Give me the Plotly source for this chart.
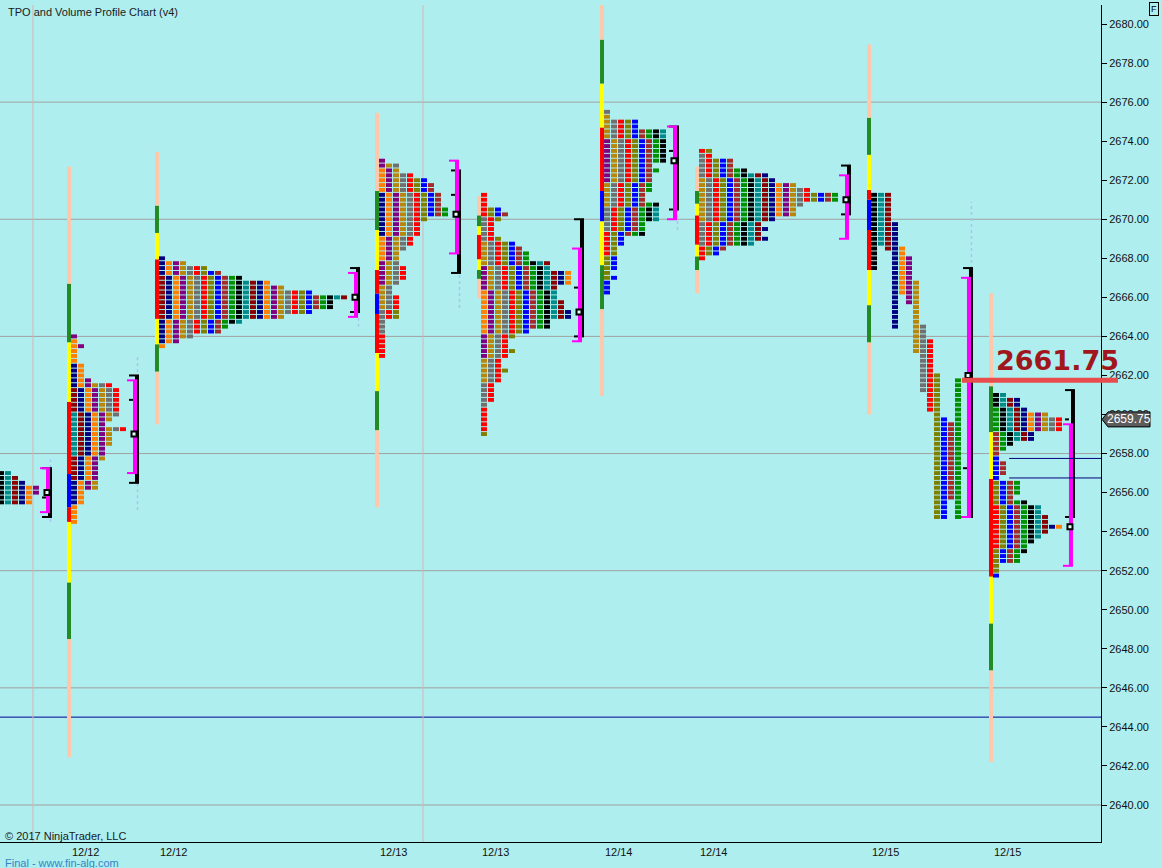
import plotly.graph_objects as go

# ---------------- data ----------------
TICK = 0.25

y_ticks = list(range(2640, 2682, 2))
grid_levels = [2640, 2646, 2652, 2658, 2664, 2670, 2676]
blue_level = 2644.5
key_level = 2661.75
last_price = 2659.75

session_dates = ["12/11", "12/12", "12/12", "12/13", "12/13", "12/14", "12/14", "12/15", "12/15"]
# time axis in TPO-column slots
session_start = [-0.29, 10.14, 22.71, 54.14, 68.71, 86.29, 99.86, 124.43, 141.86]
session_end = [6.57, 19.0, 50.57, 65.0, 82.57, 96.14, 120.71, 138.14, 152.71]
separator_slots = [4.71, 60.43]

profile_top = [2657.0, 2664.0, 2668.0, 2673.0, 2671.25, 2675.5, 2673.5, None, 2661.0]
profile_counts = [
    [2, 3, 4, 6, 6, 5, 5],
    [1, 1, 2, 1, 1, 1, 2, 2, 2, 3, 6, 7, 7, 7, 7, 7, 7, 6, 5, 8, 6, 6, 6, 5, 5, 5, 4, 4, 4, 4, 4, 4, 2, 2, 2, 1, 1, 1, 1],
    [1, 4, 7, 9, 12, 16, 18, 22, 27, 25, 25, 22, 18, 12, 10, 9, 5, 3, 1],
    [1, 3, 3, 5, 7, 8, 8, 9, 9, 9, 10, 10, 7, 6, 6, 6, 5, 5, 4, 3, 3, 3, 4, 4, 4, 3, 2, 2, 3, 3, 3, 3, 3, 1, 1, 1, 1, 1, 1, 1, 1],
    [1, 1, 1, 3, 4, 3, 2, 2, 2, 3, 5, 6, 7, 7, 10, 10, 13, 13, 13, 11, 11, 11, 12, 12, 13, 13, 10, 10, 7, 5, 4, 4, 5, 4, 3, 3, 4, 3, 3, 2, 2, 2, 2, 1, 1, 1, 1, 1, 1, 1],
    [1, 1, 5, 5, 9, 9, 9, 9, 9, 9, 9, 7, 8, 7, 7, 7, 7, 6, 6, 8, 8, 8, 8, 6, 6, 6, 3, 3, 2, 2, 2, 2, 2, 1, 2, 1, 1, 1],
    [2, 2, 5, 5, 7, 10, 11, 14, 16, 20, 20, 15, 14, 14, 11, 9, 10, 9, 10, 8, 4, 3, 1],
    None,
    [2, 4, 4, 5, 8, 10, 10, 10, 6, 6, 3, 2, 1, 1, 2, 2, 2, 1, 4, 4, 4, 3, 5, 7, 7, 8, 8, 10, 8, 7, 6, 5, 5, 4, 4, 1, 1, 1],
]
# developing (split) profile of session 7: one column per period
p7_period_high = [2671.25, 2671.25, 2671.25, 2669.75, 2668.5, 2668.0, 2666.75, 2664.5, 2663.75, 2662.0, 2659.75, 2659.5, 2661.75]
p7_period_low = [2667.5, 2668.75, 2668.5, 2664.5, 2666.25, 2665.75, 2663.25, 2661.25, 2660.25, 2654.75, 2654.75, 2655.75, 2654.75]

poc = [2656.0, 2659.0, 2666.0, 2670.25, 2665.25, 2673.0, 2671.0, 2662.0, 2654.25]
close = [2655.75, 2660.75, 2665.25, 2671.25, 2666.5, 2673.5, None, 2657.25, 2659.75]
va_low = [2655.0, 2657.0, 2665.0, 2668.25, 2663.75, 2670.0, 2669.0, 2654.75, 2652.25]
va_high = [2657.25, 2661.75, 2667.25, 2673.0, 2668.5, 2674.75, 2672.25, 2667.0, 2659.5]
vol_low = [2654.75, 2656.5, 2665.25, 2667.25, 2664.0, 2670.5, 2670.25, 2654.75, 2654.75]
vol_high = [2657.25, 2662.0, 2667.5, 2672.5, 2670.0, 2674.75, 2672.75, 2667.5, 2661.25]
dev_low = [2654.5, 2655.1, 2664.5, 2665.45, None, 2669.45, 2671.0, 2667.45, None]
dev_high = [2657.7, 2663.0, 2667.6, 2667.25, None, 2674.9, 2672.9, 2670.9, None]

rb_bounds = [
    None,
    [2642.45, 2648.5, 2651.4, 2654.5, 2655.25, 2656.95, 2660.65, 2663.7, 2666.7, 2672.7],
    [2659.5, 2662.2, 2663.6, 2664.9, 2667.95, 2669.3, 2670.7, 2673.45],
    [2655.25, 2659.2, 2661.2, 2663.15, 2665.15, 2666.2, 2667.4, 2669.45, 2671.45, 2675.45],
    [2665.95, 2666.95, 2667.4, 2667.95, 2669.2, 2669.65, 2670.2, 2671.2],
    [2660.95, 2665.4, 2667.65, 2669.9, 2671.45, 2674.7, 2676.95, 2679.2, 2682.0],
    [2666.2, 2667.4, 2668.1, 2668.7, 2670.2, 2670.8, 2671.45, 2672.7],
    [2660.0, 2663.7, 2665.6, 2667.4, 2669.45, 2671.0, 2671.5, 2673.3, 2675.2, 2678.95],
    [2642.2, 2646.9, 2649.3, 2651.7, 2656.7, 2659.1, 2661.45, 2666.2],
]
rb_kinds = [
    None,
    ["pe", "gr", "ye", "rd", "bl", "rd", "ye", "gr", "pe"],
    ["pe", "gr", "ye", "rd", "ye", "gr", "pe"],
    ["pe", "gr", "ye", "rd", "bl", "rd", "ye", "gr", "pe"],
    ["pe", "gr", "ye", "rd", "ye", "gr", "pe"],
    ["pe", "gr", "ye", "bl", "rd", "ye", "gr", "pe"],
    ["pe", "gr", "ye", "rd", "ye", "gr", "pe"],
    ["pe", "gr", "ye", "rd", "bl", "rd", "ye", "gr", "pe"],
    ["pe", "gr", "ye", "rd", "ye", "gr", "pe"],
]
single_print_levels = [2657.75, 2656.75]

# ---------------- styles ----------------
BG = "#AFEEEE"
tpo_palette = ["#000000", "#008B8B", "#8B0000", "#000080", "#FF8000", "#800080",
               "#B8860B", "#707070", "#FF0000", "#808000", "#0000FF", "#A52A2A", "#009000"]
rb_palette = {"pe": "#FFC8AA", "gr": "#228B22", "ye": "#FFFF00", "rd": "#FF0000", "bl": "#0000FF"}
PX = 1.0 / 7.0            # one screen pixel in slot units
PLOT_W = 1101
X_MAX = PLOT_W * PX
Y_MIN, Y_MAX = 2638.105, 2680.973
FONT = "Liberation Sans, Arial, sans-serif"


def slot_to_paper(s):
    return s / X_MAX


fig = go.Figure()

# ---- background lines ----
for lv in grid_levels:
    fig.add_shape(type="line", xref="paper", x0=0, x1=1, y0=lv, y1=lv,
                  line=dict(color="#A0A0A0", width=1), layer="below")
fig.add_shape(type="line", xref="paper", x0=0, x1=1, y0=blue_level, y1=blue_level,
              line=dict(color="#000090", width=1), layer="below")
for s in separator_slots:
    fig.add_shape(type="line", xref="x", yref="paper", x0=s, x1=s, y0=0, y1=1,
                  line=dict(color="#D6B4B4", width=1), layer="below")

# ---- TPO blocks ----
bx, bb, bc = [], [], []
for i, counts in enumerate(profile_counts):
    if counts is None:
        continue
    top = profile_top[i]
    r_poc = round((top - poc[i]) / TICK)
    for r, c in enumerate(counts):
        p = top - r * TICK
        for k in range(c):
            ci = (k + abs(r - r_poc) // 5 + i) % len(tpo_palette)
            bx.append(session_start[i] + k + 3 * PX)
            bb.append(p - 0.1)
            bc.append(tpo_palette[ci])
for k, (hi, lo) in enumerate(zip(p7_period_high, p7_period_low)):
    n = round((hi - lo) / TICK) + 1
    for j in range(n):
        p = hi - j * TICK
        bx.append(session_start[7] + k + 3 * PX)
        bb.append(p - 0.1)
        bc.append(tpo_palette[k % len(tpo_palette)])
fig.add_trace(go.Bar(x=bx, y=[0.2] * len(bx), base=bb, width=6 * PX,
                     marker=dict(color=bc, line=dict(width=0)),
                     hoverinfo="skip", showlegend=False))

# ---- range bars ----
rx, ry, rbase, rcol = [], [], [], []
for i, bounds in enumerate(rb_bounds):
    if bounds is None:
        continue
    for j, kind in enumerate(rb_kinds[i]):
        rx.append(session_start[i] - 2 * PX)
        rbase.append(bounds[j])
        ry.append(bounds[j + 1] - bounds[j])
        rcol.append(rb_palette[kind])
fig.add_trace(go.Bar(x=rx, y=ry, base=rbase, width=4 * PX,
                     marker=dict(color=rcol, line=dict(width=0)),
                     hoverinfo="skip", showlegend=False))

# ---- developing lines (dotted) ----
dx, dy = [], []
for i in range(len(session_end)):
    if dev_low[i] is None:
        continue
    x = session_end[i] + 4.5 * PX
    dx += [x, x, None]
    dy += [dev_low[i], dev_high[i], None]
fig.add_trace(go.Scatter(x=dx, y=dy, mode="lines", line=dict(color="#A4C4F4", width=1.5, dash="dot"),
                         hoverinfo="skip", showlegend=False))


def segs(pairs):
    xs, ys = [], []
    for (x0, y0, x1, y1) in pairs:
        xs += [x0, x1, None]
        ys += [y0, y1, None]
    return xs, ys


# brackets
bv, bcap, mv, mcap, ct = [], [], [], [], []
for i, e in enumerate(session_end):
    bv.append((e + 4 * PX, vol_low[i], e + 4 * PX, vol_high[i]))
    for lv in (vol_low[i], vol_high[i]):
        bcap.append((e - 4 * PX, lv, e + 6 * PX, lv))
    mv.append((e + 2 * PX, va_low[i], e + 2 * PX, va_high[i]))
    for lv in (va_low[i], va_high[i]):
        mcap.append((e - 6 * PX, lv, e + 4 * PX, lv))
    if close[i] is not None:
        ct.append((e - 4 * PX, close[i], e, close[i]))

for pairs, col, w in [(bv, "#000000", 4), (bcap, "#000000", 2), (ct, "#000000", 2),
                      (mv, "#FF00FF", 4), (mcap, "#FF00FF", 2)]:
    xs, ys = segs(pairs)
    fig.add_trace(go.Scatter(x=xs, y=ys, mode="lines", line=dict(color=col, width=w),
                             hoverinfo="skip", showlegend=False))

# POC markers
fig.add_trace(go.Scatter(x=[e + 1 * PX for e in session_end], y=poc, mode="markers",
                         marker=dict(symbol="square", size=5, color="#E8FFFF",
                                     line=dict(color="#000000", width=2)),
                         hoverinfo="skip", showlegend=False))

# single print extension lines
for lv in single_print_levels:
    fig.add_shape(type="line", xref="paper", x0=slot_to_paper(session_start[8] + 2.3), x1=1,
                  y0=lv, y1=lv, line=dict(color="#000080", width=1))

# key level line + label
fig.add_shape(type="line", xref="paper", x0=slot_to_paper(session_end[7] - 5 * PX),
              x1=1118 / PLOT_W, y0=key_level, y1=key_level,
              line=dict(color="#E84C4C", width=5), layer="above")
fig.add_annotation(x=1057 / PLOT_W, xref="paper", y=key_level + 1.0, yref="y",
                   text=f"<b>{key_level:.2f}</b>", showarrow=False,
                   font=dict(family="DejaVu Sans, sans-serif", size=27, color="#A0161C"),
                   xanchor="center", yanchor="middle")

# last price tag
h = 7.5 / 19.525
x_tip, x_b0, x_b1 = 1102 / PLOT_W, 1108 / PLOT_W, 1150 / PLOT_W
fig.add_shape(type="path", xref="paper", yref="y",
              path=(f"M {x_tip},{last_price} L {x_b0},{last_price + h} L {x_b1},{last_price + h} "
                    f"L {x_b1},{last_price - h} L {x_b0},{last_price - h} Z"),
              fillcolor="#5C5C5C", line=dict(color="#000000", width=1), layer="above")
fig.add_annotation(x=1129 / PLOT_W, xref="paper", y=last_price, yref="y",
                   text=f"{last_price:.2f}", showarrow=False,
                   font=dict(family=FONT, size=12, color="#FFFFFF"),
                   xanchor="center", yanchor="middle")

# texts
fig.add_annotation(x=6 / PLOT_W, xref="paper", y=(842 - 12) / 837, yref="paper",
                   text="TPO and Volume Profile Chart (v4)", showarrow=False,
                   font=dict(family=FONT, size=11, color="#1A1A1A"), xanchor="left", yanchor="middle")
fig.add_annotation(x=3 / PLOT_W, xref="paper", y=(842 - 835.5) / 837, yref="paper",
                   text="© 2017 NinjaTrader, LLC", showarrow=False,
                   font=dict(family=FONT, size=11, color="#1A1A1A"), xanchor="left", yanchor="middle")
fig.add_annotation(x=3 / PLOT_W, xref="paper", y=(842 - 862.5) / 837, yref="paper",
                   text="Final - www.fin-alg.com", showarrow=False,
                   font=dict(family=FONT, size=11, color="#2F86C8"), xanchor="left", yanchor="middle")
fig.add_annotation(x=1154 / PLOT_W, xref="paper", y=(842 - 9) / 837, yref="paper",
                   text="F", showarrow=False, bgcolor=BG, bordercolor="#000000", borderwidth=1,
                   borderpad=1, font=dict(family=FONT, size=9, color="#000000"),
                   xanchor="center", yanchor="middle")

tick_slots = [s + 2.1 for s in session_start[1:]]
fig.update_layout(
    width=1162, height=868,
    margin=dict(l=0, r=61, t=5, b=26),
    paper_bgcolor=BG, plot_bgcolor=BG,
    barmode="overlay",
    xaxis=dict(range=[0, X_MAX], showgrid=False, zeroline=False, showline=True,
               linecolor="#000000", linewidth=1, tickvals=tick_slots, ticktext=session_dates[1:],
               ticks="", tickfont=dict(family=FONT, size=11, color="#111111"), fixedrange=True),
    yaxis=dict(range=[Y_MIN, Y_MAX], side="right", showgrid=False, zeroline=False, showline=True,
               linecolor="#000000", linewidth=1, tickvals=y_ticks,
               ticktext=[f"{v:.2f}" for v in y_ticks], ticks="outside", ticklen=5,
               tickcolor="#000000", tickfont=dict(family=FONT, size=11, color="#111111"),
               fixedrange=True),
    font=dict(family=FONT),
)

fig.write_html("out.html", config={"displayModeBar": False},
               post_script="document.body.style.margin='0px';document.body.style.overflow='hidden';")
